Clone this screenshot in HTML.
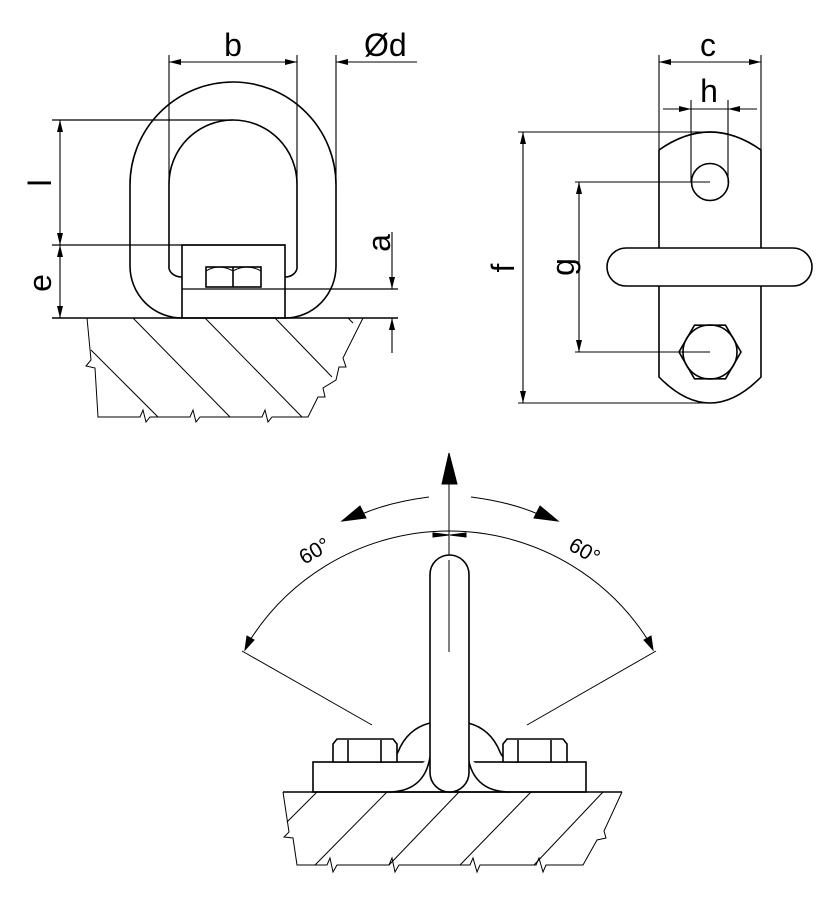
<!DOCTYPE html>
<html><head><meta charset="utf-8"><style>
html,body{margin:0;padding:0;background:#fff;}
svg{display:block;}
text{font-family:"Liberation Sans",sans-serif;fill:#000;}
</style></head><body>
<svg width="840" height="900" viewBox="0 0 840 900" xmlns="http://www.w3.org/2000/svg">
<defs>
<marker id="ar" viewBox="0 0 12 6" refX="12" refY="3" markerWidth="12" markerHeight="6" markerUnits="userSpaceOnUse" orient="auto"><path d="M0,0 L12,3 L0,6 Z" fill="#000"/></marker>
</defs>
<g fill="none" stroke="#000" stroke-width="1.6">
<path d="M182,318 A52,52 0 0 1 130,266 L130,185 A103,103 0 0 1 336,185 L336,266 A51,52 0 0 1 285,318"/>
<path d="M182,277 A13,10 0 0 1 169,266 L169,184 A64,64 0 0 1 297,184 L297,266 A12,10 0 0 1 285,277"/>
<rect x="182" y="245" width="103" height="73" fill="#fff"/>
<line x1="182" y1="289" x2="398" y2="289" stroke-width="1.2"/>
<rect x="206" y="267" width="55" height="20"/>
<line x1="233" y1="267" x2="233" y2="287"/>
<path d="M206,271 Q219,263 233,271 Q247,263 261,271" stroke-width="1"/>
<line x1="52" y1="245" x2="285" y2="245" stroke-width="1.2"/>
<line x1="52" y1="120" x2="233" y2="120" stroke-width="1.2"/>
<line x1="52" y1="318" x2="398" y2="318"/>
<path d="M87,318 L91,360 L86,366 L95,368 L98,417 L140,417 L143,410 L146,422 L150,417 L190,417 L193,410 L196,422 L200,417 L262,417 L265,410 L268,422 L272,417 L308,417 L318,397 L325,397 L323,388 L336,380 L339,367 L346,367 L343,358 L363,318" stroke-width="1"/>
<g stroke-width="1">
<line x1="133" y1="318" x2="230" y2="417"/>
<line x1="205" y1="318" x2="302" y2="417"/>
<line x1="275" y1="318" x2="332" y2="377"/>
<line x1="348" y1="318" x2="353" y2="323"/>
<line x1="91" y1="350" x2="158" y2="417"/>
</g>
</g>
<g fill="none" stroke="#000" stroke-width="1.1">
<line x1="169" y1="55" x2="169" y2="184"/>
<line x1="297" y1="55" x2="297" y2="184"/>
<line x1="336" y1="55" x2="336" y2="185"/>
<line x1="233" y1="62" x2="169" y2="62" marker-end="url(#ar)"/>
<line x1="233" y1="62" x2="297" y2="62" marker-end="url(#ar)"/>
<line x1="417" y1="62" x2="336" y2="62" marker-end="url(#ar)"/>
<line x1="60" y1="182" x2="60" y2="120" marker-end="url(#ar)"/>
<line x1="60" y1="182" x2="60" y2="245" marker-end="url(#ar)"/>
<line x1="60" y1="280" x2="60" y2="245" marker-end="url(#ar)"/>
<line x1="60" y1="280" x2="60" y2="318" marker-end="url(#ar)"/>
<line x1="392" y1="232" x2="392" y2="289" marker-end="url(#ar)"/>
<line x1="392" y1="353" x2="392" y2="318" marker-end="url(#ar)"/>
</g>
<text x="233" y="56" font-size="32" text-anchor="middle">b</text>
<text x="364" y="56" font-size="32">Ød</text>
<text transform="translate(51,183) rotate(-90)" font-size="32" text-anchor="middle">l</text>
<text transform="translate(51,283) rotate(-90)" font-size="32" text-anchor="middle">e</text>
<text transform="translate(390,243) rotate(-90)" font-size="32" text-anchor="middle">a</text>

<g fill="none" stroke="#000" stroke-width="1.6">
<path d="M659,150 Q710,114 761,150 L761,377 Q710,429 659,377 Z" fill="#fff"/>
<rect x="607" y="248" width="205" height="38" rx="19" ry="19" fill="#fff"/>
<circle cx="710" cy="182" r="18.5"/>
<polygon points="741,352 725.5,378.8 694.5,378.8 679,352 694.5,325.2 725.5,325.2"/>
<circle cx="710" cy="352" r="27"/>
</g>
<g fill="none" stroke="#000" stroke-width="1.1">
<line x1="659" y1="55" x2="659" y2="150"/>
<line x1="761" y1="55" x2="761" y2="150"/>
<line x1="691" y1="100" x2="691" y2="182"/>
<line x1="728" y1="100" x2="728" y2="182"/>
<line x1="710" y1="62" x2="659" y2="62" marker-end="url(#ar)"/>
<line x1="710" y1="62" x2="761" y2="62" marker-end="url(#ar)"/>
<line x1="663" y1="109" x2="691" y2="109" marker-end="url(#ar)"/>
<line x1="757" y1="109" x2="728" y2="109" marker-end="url(#ar)"/>
<line x1="691" y1="109" x2="728" y2="109"/>
<line x1="518" y1="132" x2="710" y2="132"/>
<line x1="518" y1="403" x2="710" y2="403"/>
<line x1="575" y1="182" x2="710" y2="182"/>
<line x1="575" y1="352" x2="710" y2="352"/>
<line x1="523" y1="268" x2="523" y2="132" marker-end="url(#ar)"/>
<line x1="523" y1="268" x2="523" y2="403" marker-end="url(#ar)"/>
<line x1="579" y1="267" x2="579" y2="182" marker-end="url(#ar)"/>
<line x1="579" y1="267" x2="579" y2="352" marker-end="url(#ar)"/>
</g>
<text x="708" y="56" font-size="32" text-anchor="middle">c</text>
<text x="709" y="102" font-size="32" text-anchor="middle">h</text>
<text transform="translate(514,268) rotate(-90)" font-size="32" text-anchor="middle">f</text>
<text transform="translate(574,267) rotate(-90)" font-size="32" text-anchor="middle">g</text>

<g fill="none" stroke="#000" stroke-width="1">
<line x1="449" y1="652" x2="449" y2="480"/>
<path d="M442,484 L449,453 L457,484 Z" fill="#000"/>
<path d="M429,497 Q390,502 362,514"/>
<path d="M342,521 L360,506 L366,518 Z" fill="#000"/>
<path d="M471,497 Q510,502 538,514"/>
<path d="M558,521 L540,506 L534,518 Z" fill="#000"/>
<path d="M247,645 A236,236 0 0 1 651,645"/>
<path d="M245,650 L247,636 L254,640 Z" fill="#000"/>
<path d="M653,650 L651,636 L644,640 Z" fill="#000"/>
<path d="M433,537 L449,535 L433,533 Z" fill="#000"/>
<path d="M466,537 L450,535 L466,533 Z" fill="#000"/>
<line x1="242" y1="651" x2="372" y2="725"/>
<line x1="656" y1="651" x2="527" y2="725"/>
</g>
<text transform="translate(318,557) rotate(-30)" font-size="21" text-anchor="middle">60°</text>
<text transform="translate(581,557) rotate(30)" font-size="21" text-anchor="middle">60°</text>
<g fill="none" stroke="#000" stroke-width="1.6">
<rect x="313" y="762" width="273" height="30" fill="#fff"/>
<path d="M430,723 C410,728 402,742 398,752 Q394,762 380,762 M468,723 C488,728 496,742 500,752 Q504,762 518,762" />
<path d="M430,757 C426,782 410,792 388,792 M468,757 C472,782 488,792 510,792" fill="#fff"/>
<rect x="430" y="555" width="39" height="237" rx="19.5" ry="19.5" fill="#fff"/>
<path d="M333,762 L333,744 L337,739 L393,739 L397,744 L397,762 Z" fill="#fff"/>
<line x1="348" y1="740" x2="348" y2="762"/><line x1="381" y1="740" x2="381" y2="762"/>
<path d="M503,762 L503,744 L507,739 L563,739 L567,744 L567,762 Z" fill="#fff"/>
<line x1="518" y1="740" x2="518" y2="762"/><line x1="551" y1="740" x2="551" y2="762"/>
<line x1="283" y1="792" x2="622" y2="792"/>
</g>
<line x1="449" y1="560" x2="449" y2="652" stroke="#000" stroke-width="1"/>
<g fill="none" stroke="#000" stroke-width="1">
<path d="M283,792 L289,832 L284,837 L293,838 L297,865 L327,865 L330,858 L333,872 L337,865 L389,865 L392,858 L395,872 L399,865 L470,865 L473,858 L477,872 L480,865 L536,865 L539,858 L543,872 L546,865 L583,865 L597,840 L606,838 L604,831 L622,792"/>
<line x1="317" y1="792" x2="287" y2="822"/>
<line x1="387" y1="792" x2="315" y2="865"/>
<line x1="459" y1="792" x2="389" y2="865"/>
<line x1="531" y1="792" x2="460" y2="865"/>
<line x1="603" y1="792" x2="534" y2="865"/>
</g>
</svg>
</body></html>
